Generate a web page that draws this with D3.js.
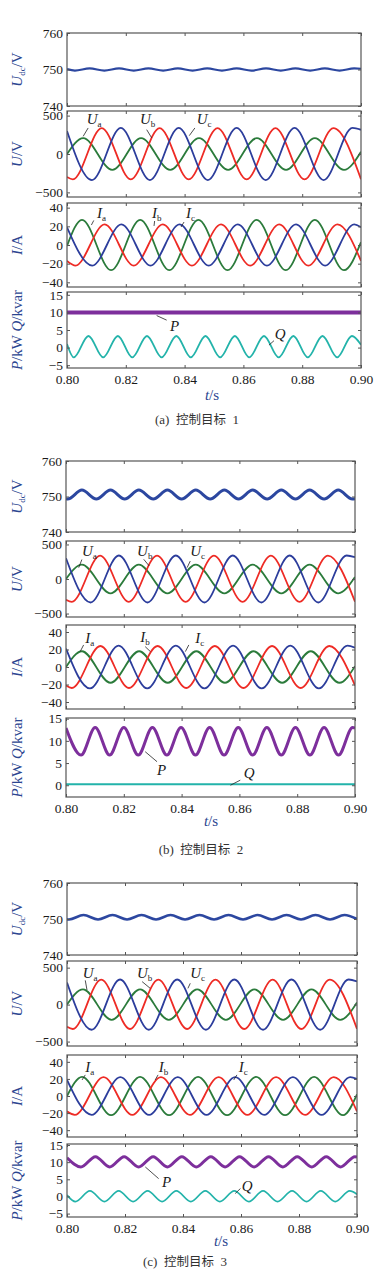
<!DOCTYPE html>
<html>
<head>
<meta charset="utf-8">
<script src="https://cdn.jsdelivr.net/npm/d3@7"></script>
<style>
  body { margin: 0; background: #fff; }
  svg { display: block; }
</style>
</head>
<body>
<svg id="chart" width="385" height="1278"></svg>
<script>
// ---- data: [t (s), value] at start, extremes, end ----

const tTicks = [0.80, 0.82, 0.84, 0.86, 0.88, 0.90];
const udcTicks = [740, 750, 760];
const uTicks = [-500, 0, 500];
const iTicks = [-40, -20, 0, 20, 40];
const pqTicks = [-5, 0, 5, 10, 15];

// grid voltage, identical in the three cases
const uRed = [[0.800,-300],[0.8020,-330],[0.8118,338],[0.8217,-330],[0.8315,338],[0.8414,-330],[0.8512,338],
  [0.8611,-330],[0.8709,338],[0.8808,-330],[0.8906,338],[0.900,-328]];
const uBlue = [[0.800,300],[0.8085,-340],[0.8183,340],[0.8282,-340],[0.8380,340],[0.8479,-340],[0.8577,340],
  [0.8676,-340],[0.8774,340],[0.8873,-340],[0.8971,340],[0.900,315]];
const uGreen = [[0.800,0],[0.8055,207],[0.8154,-207],[0.8252,207],[0.8351,-207],[0.8449,207],[0.8548,-207],
  [0.8646,207],[0.8745,-207],[0.8843,207],[0.8942,-207],[0.900,30]];

// (a) control target 1
const udcA = [[0.800,750.1],[0.8027,749.7],[0.8077,750.3],[0.8127,749.7],[0.8177,750.3],[0.8227,749.7],[0.8277,750.3],
  [0.8327,749.7],[0.8377,750.3],[0.8427,749.7],[0.8477,750.3],[0.8527,749.7],[0.8577,750.3],[0.8627,749.7],
  [0.8677,750.3],[0.8727,749.7],[0.8777,750.3],[0.8827,749.7],[0.8877,750.3],[0.8927,749.7],[0.8977,750.3],[0.900,750.2]];
const iRedA = [[0.800,-17],[0.8029,-22],[0.8128,22],[0.8227,-22],[0.8326,22],[0.8425,-22],[0.8524,22],
  [0.8623,-22],[0.8722,22],[0.8821,-22],[0.8920,22],[0.900,-17]];
const iBlueA = [[0.800,19],[0.8086,-22],[0.8185,22],[0.8284,-22],[0.8383,22],[0.8482,-22],[0.8581,22],
  [0.8680,-22],[0.8779,22],[0.8878,-22],[0.8977,22],[0.900,19]];
const iGreenA = [[0.800,-1],[0.8051,27],[0.8150,-27],[0.8249,27],[0.8348,-27],[0.8447,27],[0.8546,-27],
  [0.8645,27],[0.8744,-27],[0.8843,27],[0.8942,-27],[0.900,3]];
const pA = [[0.800,10],[0.900,10]];
const qA = [[0.800,1.0],[0.8023,-2.8],[0.8073,3.3],[0.8123,-2.8],[0.8173,3.3],[0.8222,-2.8],[0.8272,3.3],
  [0.8322,-2.8],[0.8372,3.3],[0.8421,-2.8],[0.8471,3.3],[0.8521,-2.8],[0.8571,3.3],[0.8620,-2.8],[0.8670,3.3],
  [0.8720,-2.8],[0.8770,3.3],[0.8819,-2.8],[0.8869,3.3],[0.8919,-2.8],[0.8969,3.3],[0.900,0.8]];

// (b) control target 2
const udcB = [[0.800,749.4],[0.8006,749.3],[0.8055,751.8],[0.8105,749.3],[0.8154,751.8],[0.8203,749.3],[0.8252,751.8],
  [0.8302,749.3],[0.8351,751.8],[0.8400,749.3],[0.8449,751.8],[0.8499,749.3],[0.8548,751.8],[0.8597,749.3],
  [0.8646,751.8],[0.8696,749.3],[0.8745,751.8],[0.8794,749.3],[0.8843,751.8],[0.8893,749.3],[0.8942,751.8],
  [0.8991,749.3],[0.900,749.4]];
const iRedB = [[0.800,-21],[0.8020,-24],[0.8119,24],[0.8218,-24],[0.8317,24],[0.8416,-24],[0.8515,24],
  [0.8614,-24],[0.8713,24],[0.8812,-24],[0.8911,24],[0.900,-21]];
const iBlueB = [[0.800,21],[0.8083,-24.5],[0.8182,24.5],[0.8281,-24.5],[0.8380,24.5],[0.8479,-24.5],[0.8578,24.5],
  [0.8677,-24.5],[0.8776,24.5],[0.8875,-24.5],[0.8974,24.5],[0.900,22]];
const iGreenB = [[0.800,0],[0.8055,18],[0.8154,-18],[0.8253,18],[0.8352,-18],[0.8451,18],[0.8550,-18],
  [0.8649,18],[0.8748,-18],[0.8847,18],[0.8946,-18],[0.900,1]];
const pB = [[0.800,12.9],[0.8052,6.8],[0.8101,13.0],[0.8151,6.8],[0.8200,13.0],[0.8250,6.8],[0.8299,13.0],
  [0.8349,6.8],[0.8398,13.0],[0.8448,6.8],[0.8497,13.0],[0.8547,6.8],[0.8596,13.0],[0.8646,6.8],[0.8695,13.0],
  [0.8745,6.8],[0.8794,13.0],[0.8844,6.8],[0.8893,13.0],[0.8943,6.8],[0.8992,13.0],[0.900,12.9]];
const qB = [[0.800,0.2],[0.900,0.2]];

// (c) control target 3
const udcC = [[0.800,749.9],[0.8007,749.85],[0.8057,751.1],[0.8107,749.85],[0.8157,751.1],[0.8207,749.85],[0.8257,751.1],
  [0.8307,749.85],[0.8357,751.1],[0.8407,749.85],[0.8457,751.1],[0.8507,749.85],[0.8557,751.1],[0.8607,749.85],
  [0.8657,751.1],[0.8707,749.85],[0.8757,751.1],[0.8807,749.85],[0.8857,751.1],[0.8907,749.85],[0.8957,751.1],[0.900,750.0]];
const iRedC = [[0.800,-18],[0.8027,-22],[0.8126,22],[0.8225,-22],[0.8324,22],[0.8424,-22],[0.8523,22],
  [0.8622,-22],[0.8721,22],[0.8821,-22],[0.8920,22],[0.900,-18]];
const iBlueC = [[0.800,19],[0.8085,-22],[0.8184,22],[0.8283,-22],[0.8382,22],[0.8481,-22],[0.8580,22],
  [0.8680,-22],[0.8779,22],[0.8878,-22],[0.8977,22],[0.900,20]];
const iGreenC = [[0.800,0],[0.8052,22.5],[0.8152,-22.5],[0.8252,22.5],[0.8352,-22.5],[0.8452,22.5],[0.8552,-22.5],
  [0.8652,22.5],[0.8752,-22.5],[0.8852,22.5],[0.8952,-22.5],[0.900,2]];
const pC = [[0.800,11.3],[0.8048,8.6],[0.8098,11.6],[0.8147,8.6],[0.8197,11.6],[0.8247,8.6],[0.8297,11.6],
  [0.8346,8.6],[0.8396,11.6],[0.8446,8.6],[0.8496,11.6],[0.8545,8.6],[0.8595,11.6],[0.8645,8.6],[0.8695,11.6],
  [0.8744,8.6],[0.8794,11.6],[0.8844,8.6],[0.8894,11.6],[0.8943,8.6],[0.8993,11.6],[0.900,11.5]];
const qC = [[0.800,0.4],[0.8029,-1.5],[0.8079,1.6],[0.8129,-1.5],[0.8178,1.6],[0.8228,-1.5],[0.8278,1.6],
  [0.8328,-1.5],[0.8377,1.6],[0.8427,-1.5],[0.8477,1.6],[0.8527,-1.5],[0.8577,1.6],[0.8627,-1.5],[0.8676,1.6],
  [0.8726,-1.5],[0.8776,1.6],[0.8826,-1.5],[0.8875,1.6],[0.8925,-1.5],[0.8975,1.6],[0.900,0.6]];

// ---- layout ----
const col = { udc:"#2c47a0", red:"#ee2b25", blue:"#2c3d9c", green:"#2b7b3b", p:"#7d2f9c", q:"#23b3aa",
  frame:"#555", title:"#2b4590", tick:"#1a1a1a" };
const serif = "'Liberation Serif','Times New Roman',serif";

const groups = [
  { tag:"a", num:"1", x:[67,361], rows:[[33,106],[111,197],[203,287],[292,368]],
    dom:[[740,760],[-560,560],[-45,45],[-5.8,15.8]], tY:400, tX:212, capY:424, capX:197,
    udc:udcA, udcW:2.2, i:[iGreenA,iRedA,iBlueA], p:pA, pW:4, q:qA, qW:1.8,
    ann:{ u:[["U","a",0.8067,388,0.8072,339,0.8055,230],["U","b",0.8248,388,0.8271,317,0.8288,210],["U","c",0.8441,388,0.8435,339,0.8416,239]],
          i:[["I","a",0.8102,28.4,0.8091,26.3,0.8083,21.4],["I","b",0.8289,28.9,0.8298,25.7,0.8296,20.4],["I","c",0.8405,28.4,0.8398,24.6,0.8388,19.3]],
          pq:[["P","",0.8350,4.7,0.8339,7.8,0.8305,9.1],["Q","",0.8707,2.5,0.8704,1.96,0.8687,0.7]] } },
  { tag:"b", num:"2", x:[66,355], rows:[[461,532],[541,617],[625,709],[718,797]],
    dom:[[740,760],[-550,550],[-48,48],[-2.65,15.15]], tY:826, tX:211, capY:854, capX:201,
    udc:udcB, udcW:3, i:[iGreenB,iRedB,iBlueB], p:pB, pW:3, q:qB, qW:2,
    ann:{ u:[["U","a",0.8055,333,0.8055,282,0.8044,164],["U","b",0.8246,333,0.8269,285,0.8288,188],["U","c",0.8430,333,0.8430,260,0.8419,164]],
          i:[["I","a",0.8067,27.5,0.8061,25.2,0.8049,17.6],["I","b",0.8257,28.6,0.8274,23.3,0.8292,17.6],["I","c",0.8447,28,0.8425,25.2,0.8413,17.6]],
          pq:[["P","",0.8315,2.27,0.8315,5.3,0.8274,7.56],["Q","",0.8615,1.6,0.8603,1.14,0.8569,0]] } },
  { tag:"c", num:"3", x:[67,357], rows:[[883,955],[961,1046],[1055,1137],[1144,1217]],
    dom:[[740,760],[-560,590],[-48,48],[-6,15.3]], tY:1246, tX:221, capY:1266, capX:185,
    udc:udcC, udcW:2.6, i:[iGreenC,iRedC,iBlueC], p:pC, pW:3, q:qC, qW:1.8,
    ann:{ u:[["U","a",0.8054,362,0.8063,328,0.8069,197],["U","b",0.8241,362,0.8259,311,0.8287,220],["U","c",0.8425,362,0.8425,288,0.8417,220]],
          i:[["I","a",0.8063,28.2,0.8063,24.7,0.8052,18.8],["I","b",0.8316,28.2,0.8314,24.7,0.8304,18.8],["I","c",0.8592,28.2,0.8586,24.7,0.8575,18.8]],
          pq:[["P","",0.8328,2.8,0.8316,5.2,0.8270,8.6],["Q","",0.8603,1.5,0.8598,2.3,0.8580,0.85]] } }
];

const svg = d3.select("#chart");
const defs = svg.append("defs");
let clipN = 0;

function makePanel(g, k, ticks, last) {
  const [top, bottom] = g.rows[k];
  const x = d3.scaleLinear().domain([0.8, 0.9]).range(g.x);
  const y = d3.scaleLinear().domain(g.dom[k]).range([bottom, top]);
  const id = "clip" + (clipN++);
  defs.append("clipPath").attr("id", id).append("rect")
    .attr("x", g.x[0]).attr("y", top).attr("width", g.x[1] - g.x[0]).attr("height", bottom - top);
  const body = svg.append("g").attr("clip-path", "url(#" + id + ")");
  const axes = svg.append("g");
  const tk = ticks.filter(v => v >= g.dom[k][0] - 1e-9 && v <= g.dom[k][1] + 1e-9);

  const style = sel => {
    sel.attr("font-family", serif).attr("font-size", 13.5).style("color", col.tick);
    sel.select(".domain").remove();
    sel.selectAll(".tick line").attr("stroke", col.frame);
  };
  axes.append("g").attr("transform", `translate(${g.x[0]},0)`)
    .call(d3.axisLeft(y).tickValues(tk).tickSize(-3).tickPadding(4)).call(style);
  axes.append("g").attr("transform", `translate(${g.x[1]},0)`)
    .call(d3.axisRight(y).tickValues(tk).tickSize(-3).tickFormat("")).call(style);
  axes.append("g").attr("transform", `translate(0,${top})`)
    .call(d3.axisTop(x).tickValues(tTicks).tickSize(-3).tickFormat("")).call(style);
  axes.append("g").attr("transform", `translate(0,${bottom})`)
    .call(d3.axisBottom(x).tickValues(tTicks).tickSize(-3).tickPadding(6)
      .tickFormat(last ? d3.format(".2f") : "")).call(style);
  axes.append("rect").attr("x", g.x[0]).attr("y", top)
    .attr("width", g.x[1] - g.x[0]).attr("height", bottom - top)
    .attr("fill", "none").attr("stroke", col.frame).attr("stroke-width", 1.2);
  return { x, y, body, axes, top, bottom };
}

function trace(p, data, color, w) {
  const line = d3.line().x(d => p.x(d[0])).y(d => p.y(d[1])).curve(d3.curveMonotoneX);
  p.body.append("path").datum(data).attr("d", line)
    .attr("fill", "none").attr("stroke", color).attr("stroke-width", w)
    .attr("stroke-linejoin", "round");
}

function annotate(p, list) {
  list.forEach(a => {
    const [sym, sub, t, v, t1, v1, t2, v2] = a;
    svg.append("line").attr("x1", p.x(t1)).attr("y1", p.y(v1)).attr("x2", p.x(t2)).attr("y2", p.y(v2))
      .attr("stroke", "#222").attr("stroke-width", 0.8);
    const txt = svg.append("text").attr("x", p.x(t)).attr("y", p.y(v))
      .attr("font-family", serif).attr("font-size", 15).attr("fill", "#1a1a1a");
    txt.append("tspan").attr("font-style", "italic").text(sym);
    if (sub) txt.append("tspan").attr("font-size", 9).attr("dy", 3).text(sub);
  });
}

function yTitle(p, parts) {
  const cy = (p.top + p.bottom) / 2;
  const txt = svg.append("text").attr("transform", `translate(22,${cy}) rotate(-90)`)
    .attr("text-anchor", "middle").attr("font-family", serif).attr("font-size", 15).attr("fill", col.title);
  parts.forEach(([s, kind]) => {
    const ts = txt.append("tspan").text(s);
    if (kind === "i") ts.attr("font-style", "italic");
    if (kind === "sub") ts.attr("font-size", 9).attr("dy", 3);
    if (kind === "up") ts.attr("dy", -3);
  });
}

groups.forEach(g => {
  const p1 = makePanel(g, 0, udcTicks, false);
  trace(p1, g.udc, col.udc, g.udcW);
  yTitle(p1, [["U", "i"], ["dc", "sub"], ["/V", "up"]]);

  const p2 = makePanel(g, 1, uTicks, false);
  trace(p2, uGreen, col.green, 1.8);
  trace(p2, uRed, col.red, 1.8);
  trace(p2, uBlue, col.blue, 1.8);
  annotate(p2, g.ann.u);
  yTitle(p2, [["U", "i"], ["/V", ""]]);

  const p3 = makePanel(g, 2, iTicks, false);
  trace(p3, g.i[0], col.green, 1.8);
  trace(p3, g.i[1], col.red, 1.8);
  trace(p3, g.i[2], col.blue, 1.8);
  annotate(p3, g.ann.i);
  yTitle(p3, [["I", "i"], ["/A", ""]]);

  const p4 = makePanel(g, 3, pqTicks, true);
  trace(p4, g.p, col.p, g.pW);
  trace(p4, g.q, col.q, g.qW);
  annotate(p4, g.ann.pq);
  yTitle(p4, [["P", "i"], ["/kW  ", ""], ["Q", "i"], ["/kvar", ""]]);

  const ts = svg.append("text").attr("x", g.tX).attr("y", g.tY).attr("text-anchor", "middle")
    .attr("font-family", serif).attr("font-size", 15).attr("fill", col.title);
  ts.append("tspan").attr("font-style", "italic").text("t");
  ts.append("tspan").text("/s");

  const cap = svg.append("text").attr("x", g.capX).attr("y", g.capY).attr("text-anchor", "middle")
    .attr("font-size", 13).attr("fill", "#333");
  cap.append("tspan").attr("font-family", serif).text("(" + g.tag + ")\u2002");
  cap.append("tspan").attr("font-family", "'Noto Sans CJK SC',sans-serif").attr("font-size", 12.5).text("控制目标");
  cap.append("tspan").attr("font-family", serif).text("\u2002" + g.num);
});
</script>
</body>
</html>
